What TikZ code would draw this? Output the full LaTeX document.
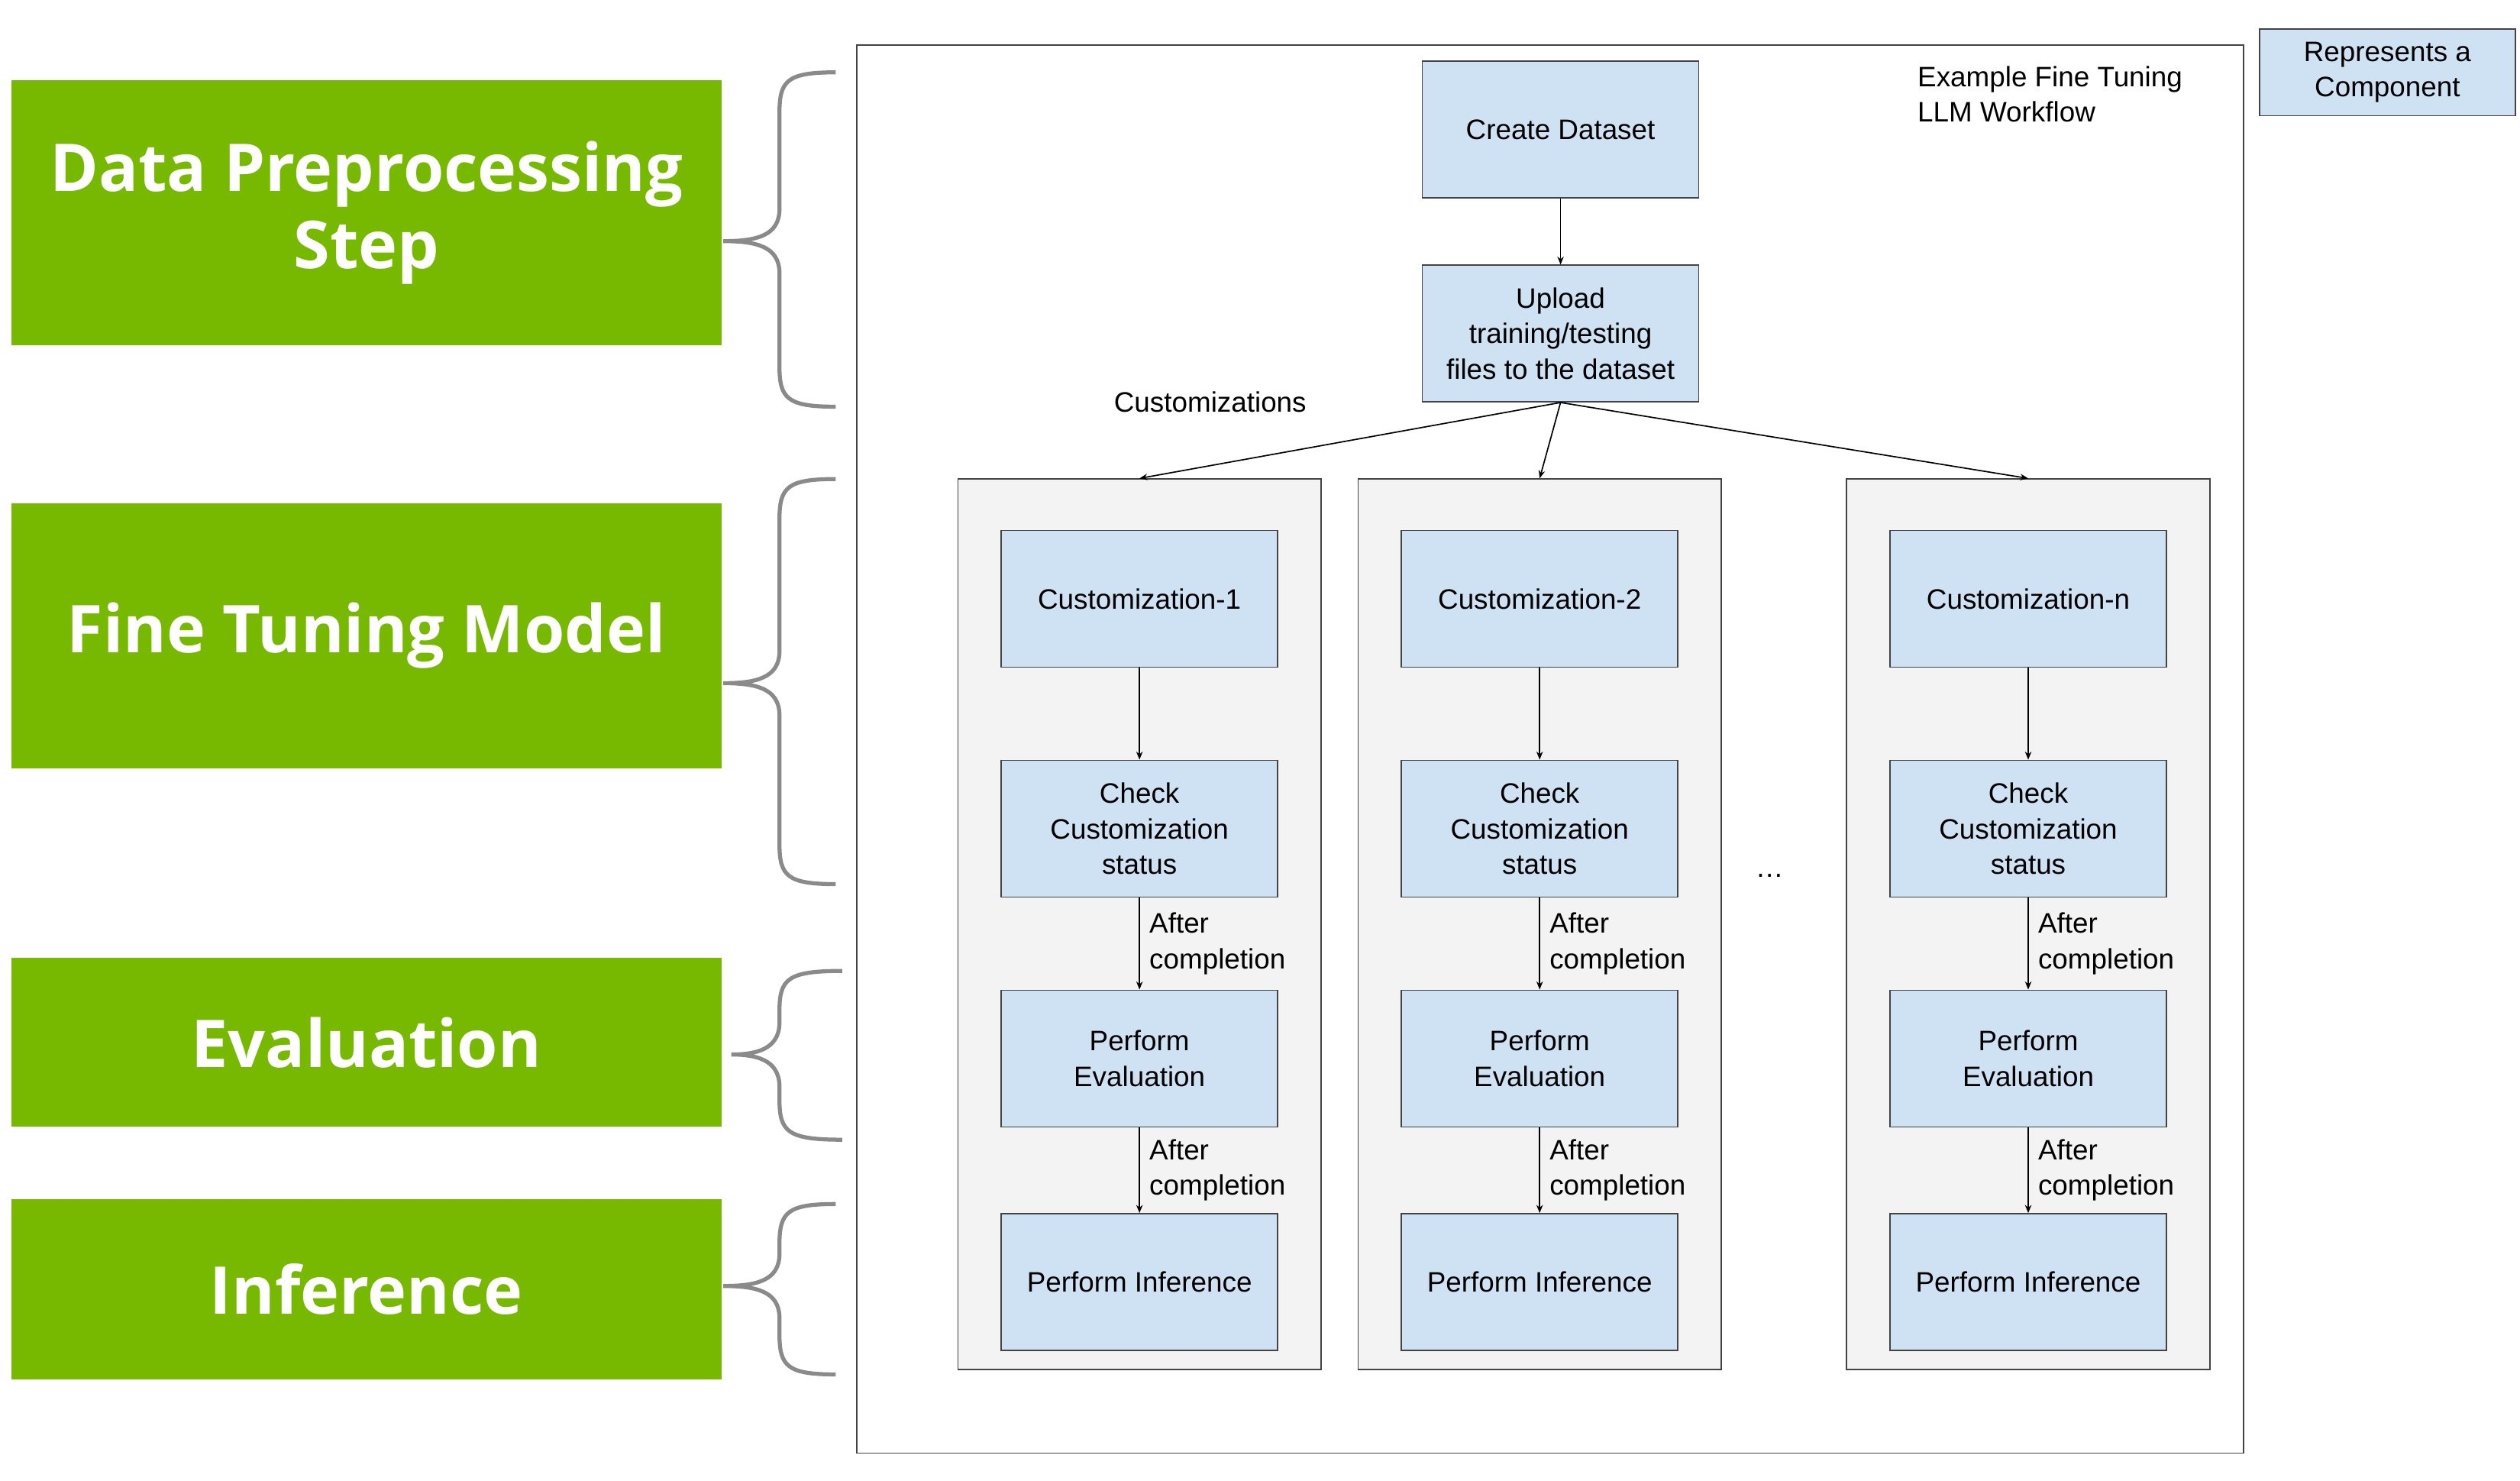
\documentclass[tikz,border=0pt]{standalone}
\usepackage{fontspec}
\setmainfont{Liberation Sans}
\newfontfamily\greenfont{Open Sans}
\usetikzlibrary{arrows.meta}
\definecolor{nvgreen}{HTML}{76B900}
\definecolor{compfill}{HTML}{CFE2F3}
\definecolor{colfill}{HTML}{F3F3F3}
\definecolor{bord}{HTML}{434343}
\definecolor{bracegray}{HTML}{8A8A8A}
\begin{document}
\begin{tikzpicture}[x=1pt,y=-1pt,
  green/.style={fill=nvgreen,draw=none,text=white,font=\greenfont\bfseries\fontsize{41}{48}\selectfont,align=center,inner sep=0},
  comp/.style={fill=compfill,draw=bord,line width=0.8pt,font=\fontsize{17.5}{22}\selectfont,align=center,inner sep=0},
  col/.style={fill=colfill,draw=bord,line width=0.8pt},
  arr/.style={-{Stealth[length=5pt,width=4pt]},line width=0.8pt,black},
  lbl/.style={font=\fontsize{17.5}{22}\selectfont,align=left,inner sep=0},
  brace/.style={draw=bracegray,line width=2.5pt}]
\useasboundingbox (0,0) rectangle (1568,921);
% green labels
\node[green,minimum width=442,minimum height=165] (g1) at (228,132.5) {Data Preprocessing\\Step};
\node[green,minimum width=442,minimum height=165] (g2) at (228,395.5) {Fine Tuning Model};
\node[green,minimum width=442,minimum height=105] (g3) at (228,648.5) {Evaluation};
\node[green,minimum width=442,minimum height=112] (g4) at (228,802) {Inference};
% braces
\foreach \t/\m/\b/\tx/\bx in {45/150/253/450/520, 298/425/550/450/520, 604/656/709/455/524, 749/800/855/450/520}{
  \draw[brace] (\bx,\t) .. controls (490,\t) and (485,\t+5) .. (485,\t+25)
    -- (485,\m-20) .. controls (485,\m-3) and (470,\m) .. (\tx,\m)
    .. controls (470,\m) and (485,\m+3) .. (485,\m+20)
    -- (485,\b-25) .. controls (485,\b-5) and (490,\b) .. (\bx,\b);
}
% outer box
\draw[bord,line width=0.8pt] (533,28) rectangle (1396,904);
\node[comp,minimum width=159,minimum height=54] (leg) at (1485.5,45) {Represents a\\Component};
\node[lbl,anchor=north west] (title) at (1193,41) {Example Fine Tuning\\LLM Workflow};
\node[comp,minimum width=172,minimum height=85] (cd) at (971,80.5) {Create Dataset};
\node[comp,minimum width=172,minimum height=85] (up) at (971,207.5) {Upload\\training/testing\\files to the dataset};
\draw[arr] (cd) -- (up);
\node[lbl] (cust) at (753,250) {Customizations};
\node[lbl] (dots) at (1101,545) {\dots};
\foreach \i/\x/\l/\cx in {1/709/1/709, 2/958/2/958, 3/1262/n/1262}{
  \node[col,minimum width=226,minimum height=554] (c\i) at (\cx,575) {};
  \node[comp,minimum width=172,minimum height=85] (a\i) at (\x,372.5) {Customization-\l};
  \node[comp,minimum width=172,minimum height=85] (b\i) at (\x,515.5) {Check\\Customization\\status};
  \node[comp,minimum width=172,minimum height=85] (e\i) at (\x,658.5) {Perform\\Evaluation};
  \node[comp,minimum width=172,minimum height=85] (f\i) at (\x,797.5) {Perform Inference};
  \draw[arr] (up.south) -- (c\i.north);
  \draw[arr] (a\i) -- (b\i);
  \draw[arr] (b\i) -- (e\i);
  \draw[arr] (e\i) -- (f\i);
  \node[lbl,anchor=west] (l1\i) at (\x+6,587) {After\\completion};
  \node[lbl,anchor=west] (l2\i) at (\x+6,728) {After\\completion};
}
\end{tikzpicture}
\end{document}
